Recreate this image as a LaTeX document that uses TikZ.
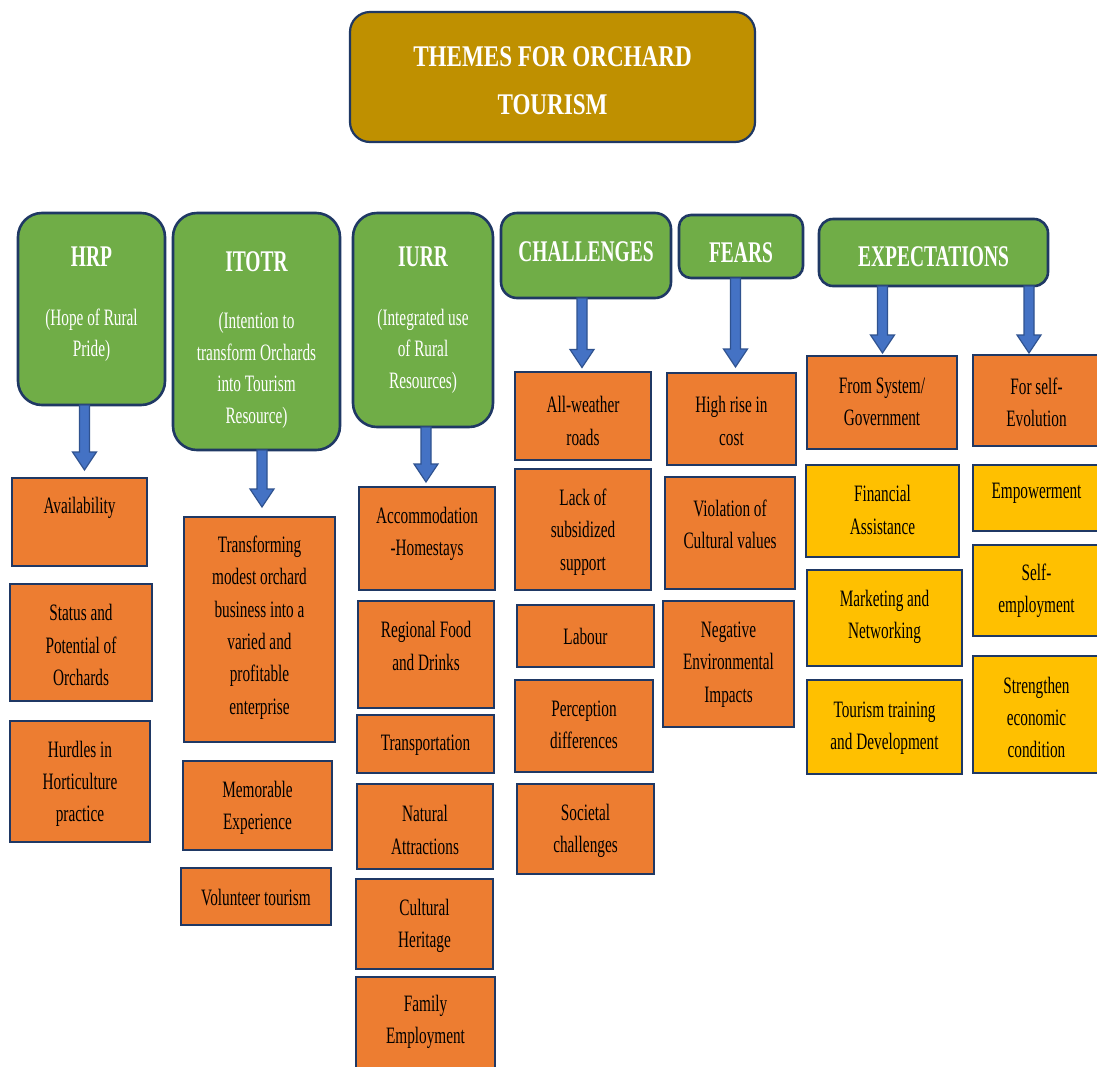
\documentclass[tikz,border=0pt]{standalone}
\usepackage{fontspec}
\usetikzlibrary{calc}
\newfontfamily\bodyfont{Liberation Serif}[FakeStretch=0.65]
\newfontfamily\titlefont{Liberation Serif}[FakeStretch=0.77]
\definecolor{navy}{HTML}{1F3864}
\definecolor{orng}{HTML}{ED7D31}
\definecolor{yell}{HTML}{FFC000}
\definecolor{grn}{HTML}{70AD47}
\definecolor{gold}{HTML}{BF9000}
\definecolor{arrowblue}{HTML}{4472C4}
\definecolor{arrowedge}{HTML}{2F528F}

% box with its caption: name, style, x1, y1, x2, y2, caption centre y, caption
\newcommand\leafbox[8]{%
  \node[#2, anchor=north west, minimum width={(#5)-(#3)}, minimum height={(#6)-(#4)}] (#1) at (#3,#4) {};
  \node[leaftext] (#1-t) at ({((#3)+(#5))/2},#7) {#8};
}
% rounded theme box: name, corner radius, x1, y1, x2, y2
\newcommand\themebox[6]{%
  \node[gbox, rounded corners=#2pt, anchor=north west, minimum width={(#5)-(#3)}, minimum height={(#6)-(#4)}] (#1) at (#3,#4) {};
}

\begin{document}
\begin{tikzpicture}[x=1pt,y=-1pt,
  base/.style={draw=navy, line width=2.6pt, inner sep=0pt, outer sep=0pt},
  obox/.style={base, fill=orng},
  ybox/.style={base, fill=yell},
  gbox/.style={base, fill=grn},
  titlebox/.style={base, line width=2.2pt, fill=gold, rounded corners=20pt},
  leaftext/.style={font=\bodyfont\fontsize{23.5}{32.3}\selectfont, align=center, inner sep=0pt, text=black},
  headtext/.style={font=\bodyfont\bfseries\fontsize{30}{36}\selectfont, text=white, inner sep=0pt},
  subtext/.style={font=\bodyfont\fontsize{23.5}{31.5}\selectfont, text=white, align=center, inner sep=0pt},
  titletext/.style={font=\titlefont\bfseries\fontsize{30}{48}\selectfont, text=white, align=center, inner sep=0pt},
  blockarrow/.style={draw=arrowedge, fill=arrowblue, line width=1.2pt, line join=miter,
    to path={let \p1=(\tikztostart), \p2=(\tikztotarget) in
      (\x2-5pt,\y1) -- (\x2-5pt,\y2+18pt) -- (\x2-12pt,\y2+18pt) -- (\x2,\y2)
      -- (\x2+12pt,\y2+18pt) -- (\x2+5pt,\y2+18pt) -- (\x2+5pt,\y1) -- cycle}},
]
\useasboundingbox (0,0) rectangle (1097,1066);
\fill[white] (0,0) rectangle (1097,1066);
\clip (0,0) rectangle (1097,1066);

% title
\node[titlebox, anchor=north west, minimum width=405, minimum height=130] (title) at (350,12) {};
\node[titletext] (title-t) at (552.5,81) {THEMES FOR ORCHARD\\TOURISM};

% theme headers
\themebox{hrp}{24}{18}{213}{165}{405}
\node[headtext] (hrp-t) at (91.5,257) {HRP};
\node[subtext] (hrp-s) at (91.5,335) {(Hope of Rural\\Pride)};

\themebox{itotr}{24}{173}{213}{340}{450}
\node[headtext] (itotr-t) at (256.5,262) {ITOTR};
\node[subtext] (itotr-s) at (256.5,370.5) {(Intention to\\transform Orchards\\into Tourism\\Resource)};

\themebox{iurr}{24}{353}{213}{493}{427}
\node[headtext] (iurr-t) at (423,257) {IURR};
\node[subtext] (iurr-s) at (423,351) {(Integrated use\\of Rural\\Resources)};

\themebox{chal}{16}{501}{213}{671}{298}
\node[headtext] (chal-t) at (586,252) {CHALLENGES};

\themebox{fears}{12}{679}{215}{803}{278}
\node[headtext] (fears-t) at (741,253) {FEARS};

\themebox{expect}{14}{819}{219}{1048}{286}
\node[headtext] (expect-t) at (933.5,257) {EXPECTATIONS};

% HRP column
\leafbox{avail}{obox}{12}{478}{147}{566}{508}{Availability}
\leafbox{status}{obox}{10}{584}{152}{701}{645}{Status and\\Potential of\\Orchards}
\leafbox{hurdles}{obox}{10}{721}{150}{842}{784}{Hurdles in\\Horticulture\\practice}

% ITOTR column
\leafbox{transf}{obox}{184}{517}{335}{742}{627.5}{Transforming\\modest orchard\\business into a\\varied and\\profitable\\enterprise}
\leafbox{memo}{obox}{183}{761}{332}{850}{808}{Memorable\\Experience}
\leafbox{volun}{obox}{181}{868}{331}{925}{898}{Volunteer tourism}

% IURR column
\leafbox{accom}{obox}{359}{487}{495}{590}{534}{Accommodation\\-Homestays}
\leafbox{food}{obox}{358}{601}{494}{708}{646}{Regional Food\\and Drinks}
\leafbox{transp}{obox}{357}{715}{494}{773}{745}{Transportation}
\leafbox{natur}{obox}{357}{784}{493}{869}{830}{Natural\\Attractions}
\leafbox{cultu}{obox}{356}{879}{493}{969}{926}{Cultural\\Heritage}
\leafbox{family}{obox}{356}{977}{495}{1085}{1022}{Family\\Employment}

% CHALLENGES column
\leafbox{roads}{obox}{515}{372}{651}{460}{421}{All-weather\\roads}
\leafbox{subsid}{obox}{515}{469}{651}{590}{532}{Lack of\\subsidized\\support}
\leafbox{labour}{obox}{517}{605}{654}{667}{636}{Labour}
\leafbox{percep}{obox}{515}{680}{653}{772}{725}{Perception\\differences}
\leafbox{societ}{obox}{517}{784}{654}{874}{831}{Societal\\challenges}

% FEARS column
\leafbox{cost}{obox}{667}{373}{796}{465}{421}{High rise in\\cost}
\leafbox{violat}{obox}{665}{477}{795}{589}{524}{Violation of\\Cultural values}
\leafbox{negat}{obox}{663}{601}{794}{727}{664.5}{Negative\\Environmental\\Impacts}

% EXPECTATIONS: from system / government
\leafbox{system}{obox}{807}{356}{957}{449}{402}{From System/\\Government}
\leafbox{finan}{ybox}{806}{465}{959}{557}{510}{Financial\\Assistance}
\leafbox{market}{ybox}{807}{570}{962}{666}{617}{Marketing and\\Networking}
\leafbox{tourtr}{ybox}{807}{680}{962}{774}{728}{Tourism training\\and Development}

% EXPECTATIONS: for self-evolution
\leafbox{selfev}{obox}{973}{355}{1100}{446}{402}{For self-\\Evolution}
\leafbox{empow}{ybox}{973}{465}{1100}{531}{493}{Empowerment}
\leafbox{selfem}{ybox}{973}{545}{1100}{636}{591}{Self-\\employment}
\leafbox{streng}{ybox}{973}{656}{1100}{773}{717.5}{Strengthen\\economic\\condition}

% block arrows from each theme to its first item
\draw[blockarrow] (hrp.south) to ([xshift=5pt,yshift=8pt]avail.north);
\draw[blockarrow] (itotr.south) to ([xshift=2.5pt,yshift=10pt]transf.north);
\draw[blockarrow] (iurr.south) to ([xshift=-1pt,yshift=5pt]accom.north);
\draw[blockarrow] (chal.south) to ([xshift=-1pt,yshift=4.5pt]roads.north);
\draw[blockarrow] (fears.south) to ([xshift=4pt,yshift=6pt]cost.north);
\draw[blockarrow] (expect.south) to ([xshift=0.5pt,yshift=3pt]system.north);
\draw[blockarrow] (expect.south) to ([xshift=-7.5pt,yshift=2pt]selfev.north);
\end{tikzpicture}
\end{document}
